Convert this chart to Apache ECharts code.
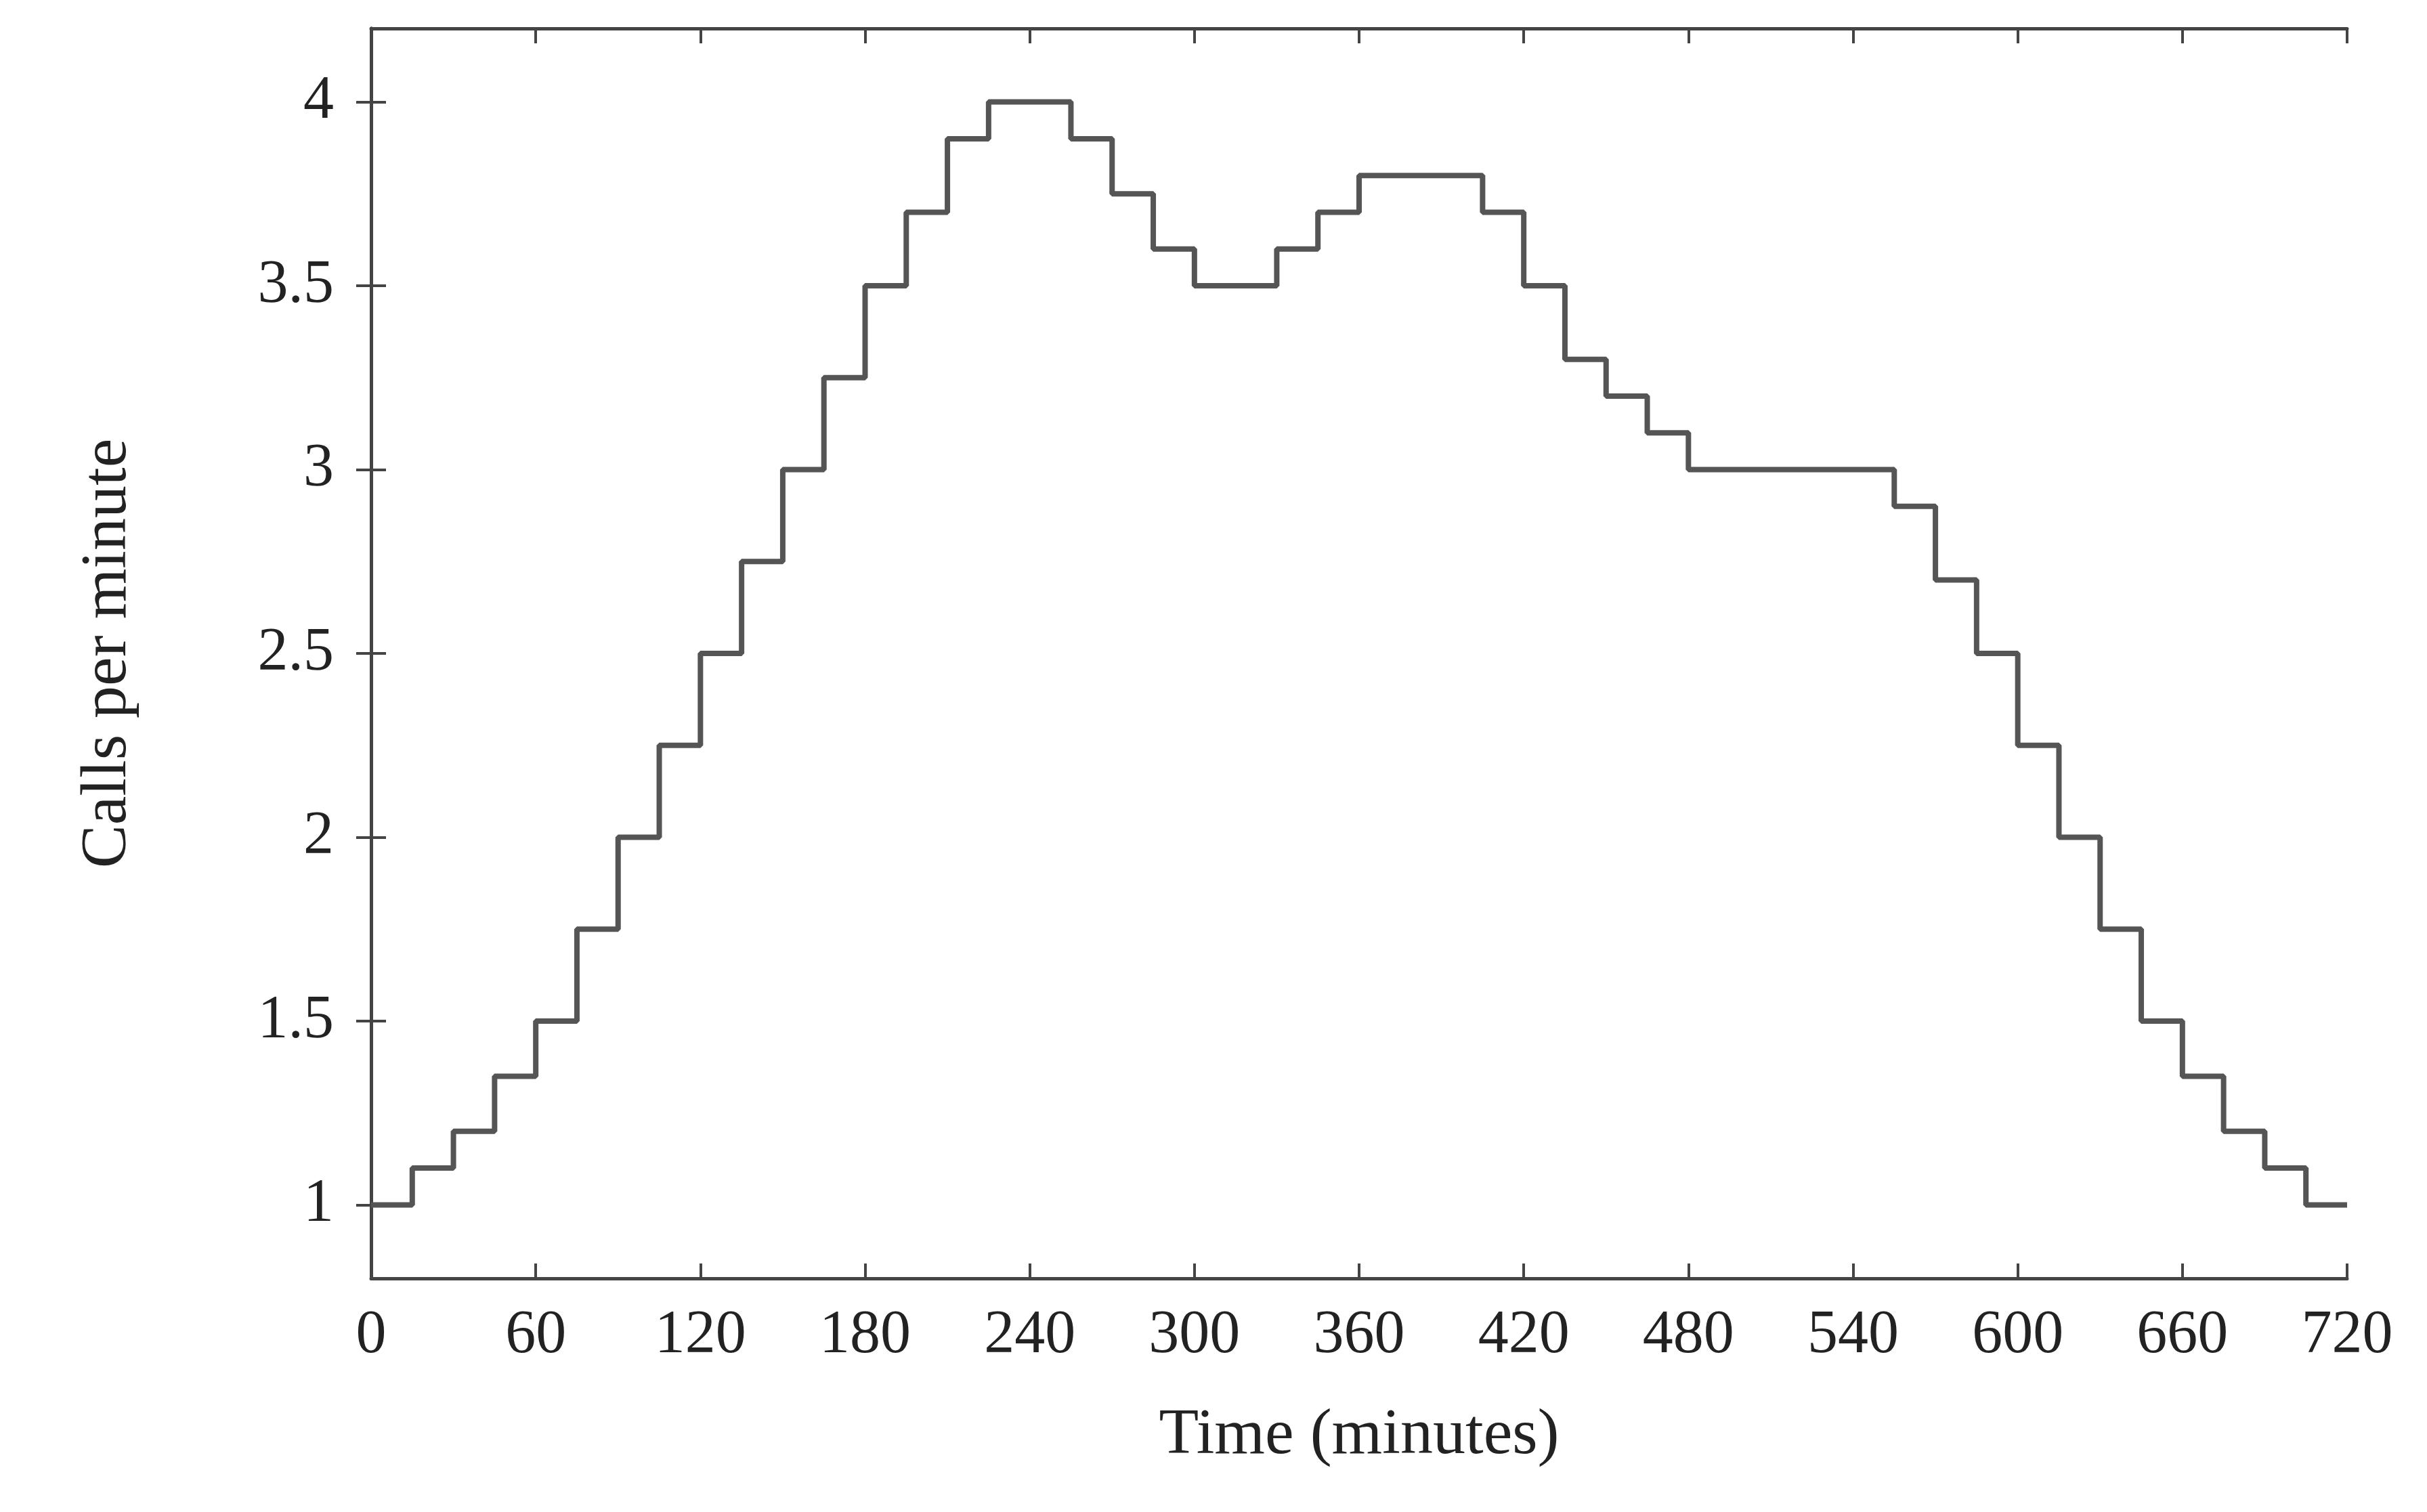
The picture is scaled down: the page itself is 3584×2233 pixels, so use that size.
<!DOCTYPE html>
<html><head><meta charset="utf-8">
<script src="https://cdn.jsdelivr.net/npm/echarts@6/dist/echarts.min.js"></script>
<style>html,body{margin:0;background:#fff}#c{width:3584px;height:2233px}</style>
</head><body><div id="c"></div>
<script>
const times = [0,15,30,45,60,75,90,105,120,135,150,165,180,195,210,225,240,255,270,285,300,315,330,345,360,375,390,405,420,435,450,465,480,495,510,525,540,555,570,585,600,615,630,645,660,675,690,705,720];
const calls = [1.0,1.1,1.2,1.35,1.5,1.75,2.0,2.25,2.5,2.75,3.0,3.25,3.5,3.7,3.9,4.0,4.0,3.9,3.75,3.6,3.5,3.5,3.6,3.7,3.8,3.8,3.8,3.7,3.5,3.3,3.2,3.1,3.0,3.0,3.0,3.0,3.0,2.9,2.7,2.5,2.25,2.0,1.75,1.5,1.35,1.2,1.1,1.0,1.0];
const yTicks = [1,1.5,2,2.5,3,3.5,4];
const F = '"Liberation Serif", "DejaVu Serif", serif';
const lineC = '#444';
const tick = {inside:true,length:22,lineStyle:{color:lineC,width:4}};
const axBase = {axisLine:{show:true,lineStyle:{color:lineC,width:5}},splitLine:{show:false},axisTick:tick};
const chart = echarts.init(document.getElementById('c'));
chart.setOption({
  animation:false,
  grid:{left:548,right:118,top:42,bottom:345},
  xAxis:[
    Object.assign({type:'value',min:0,max:720,interval:60,position:'bottom',
      name:'Time (minutes)',nameLocation:'middle',nameGap:185,
      nameTextStyle:{fontFamily:F,fontSize:96,color:'#222'},
      axisLabel:{fontFamily:F,fontSize:90,color:'#222',margin:40}},axBase),
    Object.assign({type:'value',min:0,max:720,interval:60,position:'top',axisLabel:{show:false}},axBase)
  ],
  yAxis:[
    Object.assign({type:'value',min:0.8,max:4.2,position:'left',
      name:'Calls per minute',nameLocation:'middle',nameGap:340,
      nameTextStyle:{fontFamily:F,fontSize:96,color:'#222'},
      axisLabel:{fontFamily:F,fontSize:90,color:'#222',margin:55,customValues:yTicks}},
      axBase,{axisTick:Object.assign({customValues:yTicks},tick)}),
    Object.assign({type:'value',min:0.8,max:4.2,position:'right',axisLabel:{show:false}},axBase,
      {axisTick:Object.assign({customValues:yTicks},tick)})
  ],
  series:[{type:'line',step:'end',showSymbol:false,
    data:times.map((t,i)=>[t,calls[i]]),
    lineStyle:{color:'#555',width:8}}]
});
</script></body></html>
